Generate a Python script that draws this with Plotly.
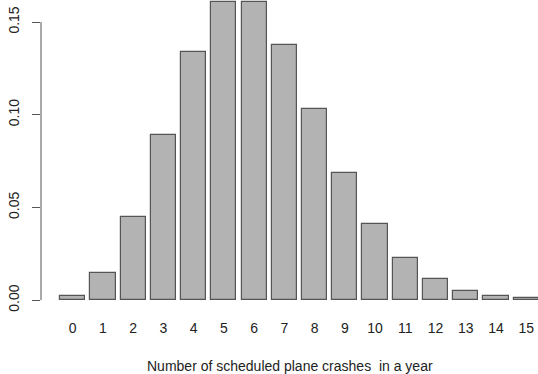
import plotly.graph_objects as go

crashes = list(range(16))
tick_labels = [str(c) for c in crashes]
probabilities = [0.0025, 0.0149, 0.0446, 0.0892, 0.1339, 0.1606, 0.1606, 0.1377,
                 0.1033, 0.0688, 0.0413, 0.0225, 0.0113, 0.0052, 0.0022, 0.0009]
y_ticks = [0.00, 0.05, 0.10, 0.15]
y_tick_text = ["0.00", "0.05", "0.10", "0.15"]
x_title = "Number of scheduled plane crashes\u00a0 in a year"

fig = go.Figure()
fig.add_trace(go.Bar(
    x=crashes, y=probabilities, width=1 / 1.2,
    marker=dict(color="#b3b3b3", line=dict(color="#555555", width=1.2)),
    showlegend=False, hoverinfo="x+y",
))

font = "Liberation Sans, Arial, sans-serif"
fig.update_layout(
    width=538, height=374,
    margin=dict(l=41, r=0, t=0, b=62, autoexpand=False),
    paper_bgcolor="white", plot_bgcolor="white",
    font=dict(family=font, size=14, color="#222222"),
    bargap=0,
    xaxis=dict(
        range=[-1.05, 15.39], tickmode="array", tickvals=crashes, ticktext=tick_labels,
        showgrid=False, zeroline=False, showline=False, automargin=False,
        ticks="outside", ticklen=3, tickcolor="rgba(0,0,0,0)",
        ticklabeloverflow="allow", tickfont=dict(size=14),
    ),
    yaxis=dict(
        range=[-0.0064, 0.1619], tickmode="array", tickvals=y_ticks, ticktext=y_tick_text,
        showgrid=False, zeroline=False, showline=False, automargin=False,
        ticks="outside", ticklen=8, tickcolor="#555555", tickwidth=1,
        tickangle=-90, tickfont=dict(size=14), ticklabeloverflow="allow",
        ticklabelstandoff=7,
    ),
)
fig.add_shape(type="line", xref="paper", yref="y", x0=0, x1=0,
              y0=y_ticks[0], y1=y_ticks[-1], line=dict(color="#555555", width=1))
fig.add_annotation(text=x_title, xref="paper", yref="paper", x=0.5, y=-54 / 312,
                   xanchor="center", yanchor="middle", showarrow=False,
                   font=dict(size=14, color="#222222"))

fig.write_html("out.html", config={"displayModeBar": False},
               post_script="document.body.style.margin='0';")
